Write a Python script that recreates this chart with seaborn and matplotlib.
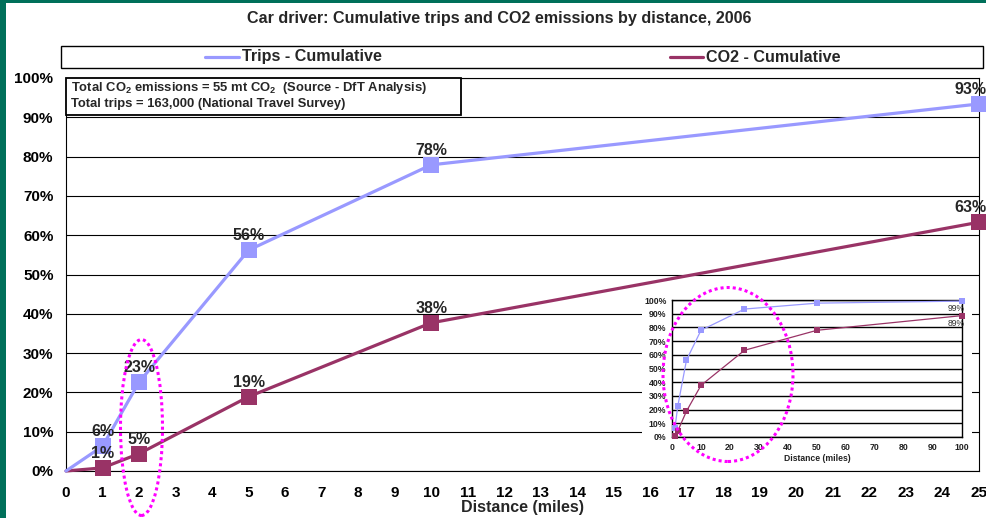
import matplotlib
matplotlib.use("Agg")
import matplotlib.pyplot as plt
import matplotlib.patches as mpatches
from matplotlib.lines import Line2D
import seaborn as sns
import pandas as pd

# ---------------- data ----------------
distance = [0, 1, 2, 5, 10, 25, 50, 100]
trips_cum = [0, 6.3, 22.6, 56.2, 77.9, 93.4, 97.7, 99.2]
co2_cum = [0, 0.8, 4.4, 18.9, 37.7, 63.3, 77.9, 88.6]
trips_labels = ["", "6%", "23%", "56%", "78%", "93%"]
co2_labels = ["", "1%", "5%", "19%", "38%", "63%"]
inset_end_labels = ["99%", "89%"]
series_names = ["Trips - Cumulative", "CO2 - Cumulative"]
main_xticks = list(range(0, 26))
main_yticks = list(range(0, 101, 10))
inset_xticks = list(range(0, 101, 10))
title = "Car driver: Cumulative trips and CO2 emissions by distance, 2006"
note_lines = [r"Total CO$_\mathbf{2}$ emissions = 55 mt CO$_\mathbf{2}$  (Source - DfT Analysis)",
              "Total trips = 163,000 (National Travel Survey)"]

TRIPS_C = "#9999FF"
CO2_C = "#993366"

sns.set_style("white")
plt.rcParams["font.family"] = ["Liberation Sans", "DejaVu Sans"]
plt.rcParams["mathtext.fontset"] = "custom"
plt.rcParams["mathtext.rm"] = "Liberation Sans"
plt.rcParams["mathtext.bf"] = "Liberation Sans:bold"

W, H = 987, 518
fig = plt.figure(figsize=(W / 100, H / 100), dpi=100)
fig.patch.set_facecolor("white")

def fx(px):
    return px / W

def fy(py):
    return 1 - py / H

# ---------------- main axes ----------------
ax = fig.add_axes([fx(66), fy(471), fx(979 - 66), (471 - 78) / H])
n_main = 6
df_main = pd.DataFrame({
    "distance": distance[:n_main] * 2,
    "value": trips_cum[:n_main] + co2_cum[:n_main],
    "series": [series_names[0]] * n_main + [series_names[1]] * n_main,
})
sns.lineplot(data=df_main, x="distance", y="value", hue="series",
             palette={series_names[0]: TRIPS_C, series_names[1]: CO2_C},
             hue_order=[series_names[1], series_names[0]],
             marker="s", markersize=11, markeredgewidth=0, linewidth=2.3,
             markevery=list(range(1, n_main)), legend=False, ax=ax,
             clip_on=False, zorder=3)

ax.set_xlim(0, 25)
ax.set_ylim(0, 100)
ax.set_xticks(main_xticks)
ax.set_yticks(main_yticks)
ax.set_yticklabels([f"{v}%" for v in main_yticks])
ax.tick_params(axis="both", direction="out", length=3, width=0.8, colors="black",
               labelsize=11)
ax.tick_params(axis="x", pad=8)
ax.tick_params(axis="y", pad=6)
for lab in ax.get_xticklabels() + ax.get_yticklabels():
    lab.set_fontweight("bold")
ax.grid(axis="y", color="black", linewidth=0.8)
ax.grid(axis="x", visible=False)
for sp in ax.spines.values():
    sp.set_visible(True)
    sp.set_color("black")
    sp.set_linewidth(0.8)
ax.set_xlabel("Distance (miles)", fontsize=11.5, fontweight="bold", labelpad=-0.5)
ax.set_ylabel("")

last = n_main - 1
for labels, vals in [(trips_labels, trips_cum), (co2_labels, co2_cum)]:
    for i, (x, y, t) in enumerate(zip(distance[:n_main], vals[:n_main], labels)):
        if t:
            dx = -6 if i == last else 0
            ax.annotate(t, (x, y), xytext=(dx, 10.5), textcoords="offset points",
                        ha="center", va="center", fontsize=11.5, fontweight="bold",
                        annotation_clip=False, zorder=6)

# ---------------- inset background ----------------
bg = mpatches.Rectangle((fx(642), fy(469)), fx(972 - 642), (469 - 289) / H,
                        transform=fig.transFigure, facecolor="white",
                        edgecolor="none", zorder=2)
fig.add_artist(bg)

# ---------------- inset axes ----------------
axi = fig.add_axes([fx(672), fy(437), fx(962 - 672), (437 - 300) / H])
axi.set_zorder(3)
axi.set_facecolor("white")
df_in = pd.DataFrame({
    "distance": distance[1:] * 2,
    "value": trips_cum[1:] + co2_cum[1:],
    "series": [series_names[0]] * (len(distance) - 1) + [series_names[1]] * (len(distance) - 1),
})
sns.lineplot(data=df_in, x="distance", y="value", hue="series",
             palette={series_names[0]: TRIPS_C, series_names[1]: CO2_C},
             marker="s", markersize=4, markeredgewidth=0, linewidth=0.9,
             legend=False, ax=axi, clip_on=False, zorder=3)
axi.set_xlim(0, 100)
axi.set_ylim(0, 100)
axi.set_xticks(inset_xticks)
axi.set_yticks(main_yticks)
axi.set_yticklabels([f"{v}%" for v in main_yticks])
axi.tick_params(axis="both", direction="out", length=2, width=0.6, colors="#222222",
                labelsize=6.3, pad=2)
for lab in axi.get_xticklabels() + axi.get_yticklabels():
    lab.set_fontweight("bold")
axi.grid(axis="y", color="black", linewidth=1.0)
axi.grid(axis="x", visible=False)
for sp in axi.spines.values():
    sp.set_visible(True)
    sp.set_color("black")
    sp.set_linewidth(1.0)
axi.set_xlabel("Distance (miles)", fontsize=6.2, fontweight="bold", labelpad=2,
               color="#222222")
axi.set_ylabel("")
axi.annotate(inset_end_labels[0], (distance[-1], trips_cum[-1]), xytext=(-4, -5),
             textcoords="offset points", ha="center", va="center", fontsize=6.2,
             color="#333333", annotation_clip=False)
axi.annotate(inset_end_labels[1], (distance[-1], co2_cum[-1]), xytext=(-4, -6),
             textcoords="offset points", ha="center", va="center", fontsize=6.2,
             color="#333333", annotation_clip=False)

# ---------------- title ----------------
fig.text(fx(499), fy(18), title, ha="center", va="center", fontsize=11.6,
         fontweight="bold")

# ---------------- legend box ----------------
fig.add_artist(mpatches.Rectangle((fx(61), fy(67.5)), fx(983 - 61), 21 / H,
                                  transform=fig.transFigure, facecolor="white",
                                  edgecolor="black", linewidth=1, zorder=4))
ly = fy(57)
for (x0, x1), name, col in [((205, 239), series_names[0], TRIPS_C),
                            ((670, 703), series_names[1], CO2_C)]:
    fig.add_artist(Line2D([fx(x0), fx(x1)], [ly, ly], transform=fig.transFigure,
                          color=col, linewidth=2.3, zorder=5))
    fig.text(fx(x1 + 3), ly, name, ha="left", va="center", fontsize=11.6,
             fontweight="bold", zorder=5)

# ---------------- note box ----------------
fig.add_artist(mpatches.Rectangle((fx(66), fy(115)), fx(461 - 66), 37 / H,
                                  transform=fig.transFigure, facecolor="white",
                                  edgecolor="black", linewidth=1.3, zorder=4))
fig.text(fx(71), fy(88), note_lines[0], ha="left", va="center", fontsize=9.4,
         fontweight="bold", zorder=5)
fig.text(fx(71), fy(104), note_lines[1], ha="left", va="center", fontsize=9.4,
         fontweight="bold", zorder=5)

# ---------------- dotted ellipses ----------------
for cx, cy, w, h in [(141.5, 427.5, 42, 176), (728, 374.5, 130, 174)]:
    fig.add_artist(mpatches.Ellipse((fx(cx), fy(cy)), fx(w), h / H,
                                    transform=fig.transFigure, fill=False,
                                    edgecolor="#FF00FF", linewidth=2.2,
                                    linestyle=(0, (1, 1)), zorder=6))

# ---------------- green frame ----------------
GREEN = "#00705A"
fig.add_artist(mpatches.Rectangle((0, 0), fx(6), 1, transform=fig.transFigure,
                                  facecolor=GREEN, edgecolor="none", zorder=10))
fig.add_artist(mpatches.Rectangle((0, fy(3)), 1, 3 / H, transform=fig.transFigure,
                                  facecolor=GREEN, edgecolor="none", zorder=10))

fig.savefig("out.png", dpi=100)
